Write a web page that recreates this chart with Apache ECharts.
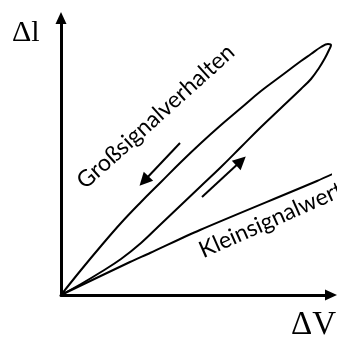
<!DOCTYPE html>
<html>
<head>
<meta charset="utf-8">
<script src="https://cdn.jsdelivr.net/npm/echarts@6/dist/echarts.min.js"></script>
<style>
  html, body { margin: 0; padding: 0; background: #fff; }
  #main { width: 337px; height: 340px; }
</style>
</head>
<body>
<div id="main"></div>
<script>
// Großsignal-Schleife, unterer Ast (Hinweg, Ursprung -> Spitze)
var lowerV = [0, 20, 40, 60, 80, 100, 120, 140, 160, 180, 200, 220, 240, 250, 258, 264, 268];
var lowerL = [0, 11, 23, 36, 52, 71, 90, 109, 128, 148, 168, 187, 206, 216, 227, 237, 245];
// Spitze der Schleife
var tipV = 270;
var tipL = 250;
// oberer Ast (Rückweg, Spitze -> Ursprung)
var upperV = [267, 260, 250, 240, 220, 200, 180, 160, 140, 120, 100, 80, 60, 40, 20, 0];
var upperL = [251, 248, 241, 234, 219, 204, 187, 170, 152, 133, 113, 93, 72, 49, 25, 0];
// Kleinsignal-Gerade
var kleinV = [0, 69, 89, 139, 256, 278];
var kleinL = [0, 33, 42, 65, 114, 124];
// Richtungspfeile [von, nach]
var arrowDown = [[119, 152], [83, 114]];
var arrowUp = [[141, 98], [180, 134]];

var chart = echarts.init(document.getElementById('main'), null, { renderer: 'canvas' });

var loop = [];
for (var i = 0; i < lowerV.length; i++) loop.push([lowerV[i], lowerL[i]]);
loop.push([tipV, tipL]);
for (var j = 0; j < upperV.length; j++) loop.push([upperV[j], upperL[j]]);

var klein = kleinV.map(function (v, k) { return [v, kleinL[k]]; });

var axisCommon = {
	type: 'value',
	min: 0,
	axisLine: {
		show: true,
		symbol: ['none', 'triangle'],
		symbolSize: [11, 12],
		lineStyle: { color: '#000', width: 3 }
	},
	axisTick: { show: false },
	axisLabel: { show: false },
	splitLine: { show: false }
};

var option = {
	animation: false,
	grid: { left: 61, right: 6, top: 18, bottom: 45 },
	xAxis: Object.assign({}, axisCommon, { max: 270 }),
	yAxis: Object.assign({}, axisCommon, { max: 277 }),
	series: [
		{
			name: 'Großsignalverhalten',
			type: 'line',
			data: loop,
			smooth: 0.4,
			symbol: 'none',
			clip: false,
			lineStyle: { color: '#000', width: 2 }
		},
		{
			name: 'Kleinsignalwert',
			type: 'line',
			data: klein,
			smooth: 0.3,
			symbol: 'none',
			clip: false,
			lineStyle: { color: '#000', width: 2 }
		},
		{
			type: 'lines',
			coordinateSystem: 'cartesian2d',
			symbol: ['none', 'triangle'],
			symbolSize: 13,
			lineStyle: { color: '#000', width: 2, opacity: 1 },
			data: [{ coords: arrowDown }, { coords: arrowUp }]
		}
	],
	graphic: [
		{
			type: 'text', x: 12, y: 48,
			style: { text: 'Δl', font: '30px "Liberation Serif"', fill: '#000', textVerticalAlign: 'bottom' }
		},
		{
			type: 'text', x: 291, y: 342,
			style: { text: 'ΔV', font: '33px "Liberation Serif"', fill: '#000', textVerticalAlign: 'bottom' }
		},
		{
			type: 'text', x: 88, y: 193, rotation: 42 * Math.PI / 180,
			style: { text: 'Großsignalverhalten', font: '23px Lato', fill: '#000', textVerticalAlign: 'bottom' }
		},
		{
			type: 'text', x: 205, y: 262, rotation: 24 * Math.PI / 180,
			style: { text: 'Kleinsignalwert', font: '23px Lato', fill: '#000', textVerticalAlign: 'bottom' }
		}
	]
};

chart.setOption(option);
</script>
</body>
</html>
